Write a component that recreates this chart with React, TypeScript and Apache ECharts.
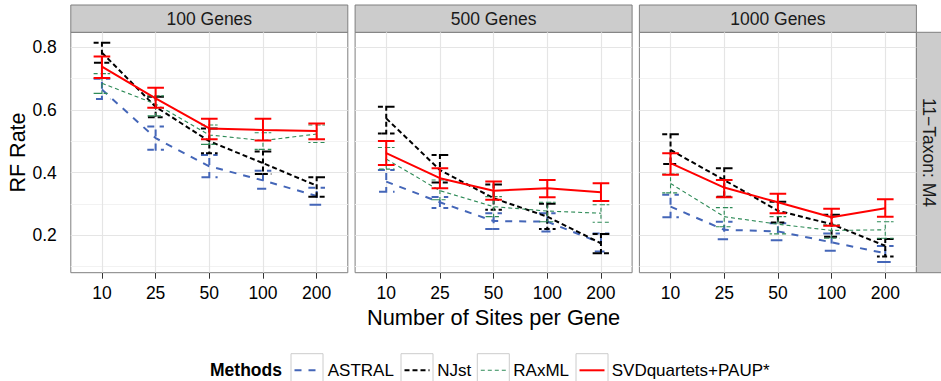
import React, { useEffect, useRef } from 'react';
import * as echarts from 'echarts';

const siteLabels = ['10', '25', '50', '100', '200'];
const panelTitles = ['100 Genes', '500 Genes', '1000 Genes'];
const rowTitle = '11\u2212Taxon: M4';
const methodNames = ['ASTRAL', 'NJst', 'RAxML', 'SVDquartets+PAUP*'];
const yTicks = [0.2, 0.4, 0.6, 0.8];
const yMinorTicks = [0.1, 0.3, 0.5, 0.7];

// [mean, lower, upper] for each number of sites per gene
const astral100 = [[0.665, 0.635, 0.70], [0.51, 0.473, 0.547], [0.42, 0.385, 0.456], [0.375, 0.348, 0.406], [0.325, 0.297, 0.351]];
const njst100 = [[0.783, 0.751, 0.815], [0.61, 0.577, 0.642], [0.50, 0.462, 0.541], [0.43, 0.395, 0.467], [0.358, 0.323, 0.385]];
const raxml100 = [[0.685, 0.653, 0.716], [0.619, 0.581, 0.645], [0.52, 0.49, 0.552], [0.502, 0.474, 0.527], [0.523, 0.496, 0.552]];
const svd100 = [[0.738, 0.702, 0.771], [0.637, 0.607, 0.671], [0.541, 0.506, 0.572], [0.536, 0.502, 0.572], [0.533, 0.506, 0.557]];

const astral500 = [[0.371, 0.339, 0.408], [0.305, 0.287, 0.322], [0.245, 0.22, 0.27], [0.243, 0.212, 0.27], [0.175, 0.148, 0.205]];
const njst500 = [[0.573, 0.525, 0.61], [0.408, 0.368, 0.456], [0.318, 0.281, 0.362], [0.259, 0.22, 0.30], [0.174, 0.142, 0.204]];
const raxml500 = [[0.443, 0.411, 0.48], [0.342, 0.313, 0.376], [0.291, 0.259, 0.323], [0.277, 0.243, 0.305], [0.27, 0.241, 0.297]];
const svd500 = [[0.462, 0.424, 0.501], [0.382, 0.35, 0.414], [0.342, 0.313, 0.371], [0.35, 0.321, 0.376], [0.337, 0.309, 0.366]];

const astral1000 = [[0.291, 0.257, 0.329], [0.217, 0.187, 0.243], [0.212, 0.184, 0.238], [0.177, 0.15, 0.205], [0.142, 0.114, 0.165]];
const njst1000 = [[0.472, 0.427, 0.522], [0.376, 0.323, 0.414], [0.278, 0.24, 0.307], [0.235, 0.195, 0.265], [0.166, 0.132, 0.188]];
const raxml1000 = [[0.365, 0.335, 0.395], [0.259, 0.227, 0.288], [0.235, 0.204, 0.259], [0.215, 0.19, 0.233], [0.217, 0.19, 0.243]];
const svd1000 = [[0.43, 0.393, 0.462], [0.352, 0.321, 0.376], [0.305, 0.27, 0.332], [0.257, 0.23, 0.284], [0.286, 0.259, 0.315]];

const panelData = [
  [astral100, njst100, raxml100, svd100],
  [astral500, njst500, raxml500, svd500],
  [astral1000, njst1000, raxml1000, svd1000],
];

const methodStyles = [
  { color: '#4466B8', width: 2, dash: [7, 7] },
  { color: '#000000', width: 2, dash: [5, 3] },
  { color: '#2E8B57', width: 1.1, dash: [4, 3] },
  { color: '#FF0000', width: 2, dash: [] as number[] },
];

const FONT = '"Liberation Sans", Arial, Helvetica, sans-serif';
const PANEL_LEFTS = [70.8, 355.1, 639.4];
const PANEL_W = 277;
const PANEL_TOP = 32.3;
const PANEL_H = 240.4;
const STRIP_TOP = 5;

export default function App() {
  const ref = useRef<HTMLDivElement>(null);
  useEffect(() => {
    if (!ref.current) return;
    const chart = echarts.init(ref.current, null, { renderer: 'svg' });

    const grids = PANEL_LEFTS.map((l) => ({
      left: l, top: PANEL_TOP, width: PANEL_W, height: PANEL_H,
      show: true, backgroundColor: '#ffffff', borderColor: '#7F7F7F', borderWidth: 1,
      containLabel: false,
    }));

    const xAxes = PANEL_LEFTS.map((_, p) => ({
      type: 'value', gridIndex: p, min: -0.58, max: 4.58,
      axisLine: { show: false },
      splitLine: { show: false },
      axisTick: { show: true, customValues: [0, 1, 2, 3, 4], length: 6, lineStyle: { color: '#333333', width: 1 } },
      axisLabel: {
        show: true, customValues: [0, 1, 2, 3, 4], margin: 11,
        formatter: (v: number) => siteLabels[Math.round(v)] ?? '',
        fontSize: 17.5, color: '#000', fontFamily: FONT,
      },
      name: p === 1 ? 'Number of Sites per Gene' : '',
      nameLocation: 'middle', nameGap: 30,
      nameTextStyle: { fontSize: 21.8, color: '#000', fontFamily: FONT },
    }));

    const yAxes = PANEL_LEFTS.map((_, p) => ({
      type: 'value', gridIndex: p, min: 0.08, max: 0.848,
      axisLine: { show: false },
      splitLine: { show: false },
      axisTick: { show: p === 0, customValues: yTicks, length: 6, lineStyle: { color: '#333333', width: 1 } },
      axisLabel: {
        show: p === 0, customValues: yTicks, margin: 14,
        formatter: (v: number) => v.toFixed(1),
        fontSize: 17.5, color: '#000', fontFamily: FONT,
      },
      name: p === 0 ? 'RF Rate' : '',
      nameLocation: 'middle', nameGap: 40,
      nameTextStyle: { fontSize: 21.5, color: '#000', fontFamily: FONT },
    }));

    const series: any[] = [];
    PANEL_LEFTS.forEach((_, p) => {
      const gridLines: any[] = [];
      yMinorTicks.forEach((v) => gridLines.push({ yAxis: v, lineStyle: { color: '#F2F2F2', width: 1, type: 'solid' } }));
      yTicks.forEach((v) => gridLines.push({ yAxis: v, lineStyle: { color: '#E5E5E5', width: 1.2, type: 'solid' } }));
      [0, 1, 2, 3, 4].forEach((v) => gridLines.push({ xAxis: v, lineStyle: { color: '#E5E5E5', width: 1.2, type: 'solid' } }));
      series.push({
        type: 'line', xAxisIndex: p, yAxisIndex: p, data: [], silent: true, z: 1,
        markLine: { silent: true, symbol: ['none', 'none'], label: { show: false }, z: 1, animation: false, data: gridLines },
      });
      panelData[p].forEach((rows, m) => {
        const st = methodStyles[m];
        series.push({
          name: methodNames[m], type: 'line', xAxisIndex: p, yAxisIndex: p, z: 3 + m,
          data: rows.map((r, i) => [i, r[0]]),
          symbol: 'none', showSymbol: false,
          lineStyle: { color: st.color, width: st.width, type: st.dash.length ? st.dash : 'solid', cap: 'butt' },
          silent: true,
        });
        series.push({
          name: methodNames[m], type: 'custom', xAxisIndex: p, yAxisIndex: p, z: 3 + m,
          data: rows.map((r, i) => [i, r[1], r[2]]),
          encode: { x: 0, y: [1, 2] },
          silent: true,
          renderItem: (params: any, api: any) => {
            const x = api.value(0);
            const pHi = api.coord([x, api.value(2)]);
            const pLo = api.coord([x, api.value(1)]);
            const w = api.size([0.155, 0])[0];
            return {
              type: 'polyline',
              shape: {
                points: [
                  [pHi[0] - w, pHi[1]], [pHi[0] + w, pHi[1]], [pHi[0], pHi[1]],
                  [pLo[0], pLo[1]], [pLo[0] - w, pLo[1]], [pLo[0] + w, pLo[1]],
                ],
              },
              style: { stroke: st.color, lineWidth: st.width, lineDash: st.dash.length ? st.dash : null, fill: null },
            };
          },
        });
      });
    });

    const graphics: any[] = [];
    PANEL_LEFTS.forEach((l, p) => {
      graphics.push({
        type: 'rect', shape: { x: l, y: STRIP_TOP, width: PANEL_W, height: PANEL_TOP - STRIP_TOP },
        style: { fill: '#CCCCCC', stroke: '#7F7F7F', lineWidth: 1 }, silent: true,
      });
      graphics.push({
        type: 'text', x: l + PANEL_W / 2, y: (STRIP_TOP + PANEL_TOP) / 2 + 0.5,
        style: { text: panelTitles[p], fontSize: 17.5, fontFamily: FONT, fill: '#1a1a1a', align: 'center', verticalAlign: 'middle' },
        silent: true,
      });
    });
    const stripX = PANEL_LEFTS[2] + PANEL_W;
    graphics.push({
      type: 'rect', shape: { x: stripX, y: PANEL_TOP, width: 941 - stripX + 2, height: PANEL_H },
      style: { fill: '#CCCCCC', stroke: '#7F7F7F', lineWidth: 1 }, silent: true,
    });
    graphics.push({
      type: 'text', x: stripX + 12.5, y: PANEL_TOP + PANEL_H / 2, rotation: -Math.PI / 2,
      style: { text: rowTitle, fontSize: 17.5, fontFamily: FONT, fill: '#1a1a1a', align: 'center', verticalAlign: 'middle' },
      silent: true,
    });

    // legend
    const legendY = 370.3;
    graphics.push({
      type: 'text', x: 210, y: legendY,
      style: { text: 'Methods', fontSize: 17.5, fontWeight: 'bold', fontFamily: FONT, fill: '#000', align: 'left', verticalAlign: 'middle' },
      silent: true,
    });
    const boxX = [291, 401, 477.3, 576];
    const textX = [327.7, 437.3, 513.3, 611.7];
    methodNames.forEach((nm, m) => {
      const st = methodStyles[m];
      graphics.push({
        type: 'rect', shape: { x: boxX[m], y: 353.7, width: 32, height: 34 },
        style: { fill: '#fff', stroke: '#CCCCCC', lineWidth: 1 }, silent: true,
      });
      graphics.push({
        type: 'line', shape: { x1: boxX[m] + 3.5, y1: legendY, x2: boxX[m] + 28.5, y2: legendY },
        style: { stroke: st.color, lineWidth: st.width, lineDash: st.dash.length ? st.dash : null }, silent: true,
      });
      graphics.push({
        type: 'text', x: textX[m], y: legendY,
        style: { text: nm, fontSize: 17, fontFamily: FONT, fill: '#000', align: 'left', verticalAlign: 'middle' },
        silent: true,
      });
    });

    chart.setOption({
      animation: false,
      textStyle: { fontFamily: FONT },
      grid: grids,
      xAxis: xAxes,
      yAxis: yAxes,
      series,
      graphic: graphics,
    } as any);
    return () => chart.dispose();
  }, []);
  return <div ref={ref} style={{ position: 'fixed', left: 0, top: 0, width: 941, height: 381, background: '#fff' }} />;
}
